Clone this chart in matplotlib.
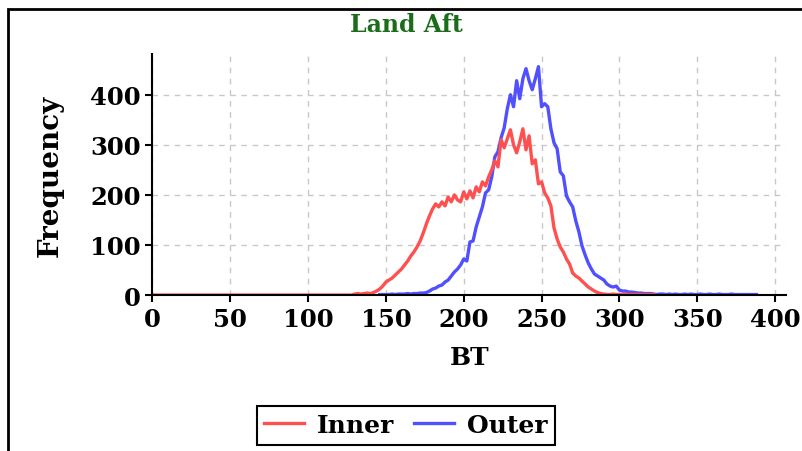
import numpy as np
import matplotlib
matplotlib.use("Agg")
import matplotlib.pyplot as plt
from matplotlib.patches import Rectangle

# histogram counts (bins of 2 BT units)
inner_start = 0
inner_counts = [0] * 65 + [
    2, 3, 2, 3, 4, 3, 5, 8, 12, 18,
    26, 30, 34, 40, 46, 52, 60, 68, 78, 86,
    96, 108, 124, 142, 158, 172, 182, 176, 186, 178,
    196, 186, 200, 190, 186, 206, 192, 208, 194, 216,
    206, 226, 218, 236, 250, 268, 256, 310, 294, 312,
    330, 300, 284, 306, 332, 290, 318, 262, 270, 222,
    226, 204, 194, 178, 134, 112, 96, 86, 72, 62,
    44, 38, 34, 28, 22, 16, 12, 8, 5, 3,
    2, 1, 1, 2, 1, 1, 1, 2, 1, 1,
    1, 1, 1, 1, 1, 1, 1,
]

outer_start = 146
outer_counts = [
    1, 1, 1, 1, 2, 1, 2, 2, 2, 3,
    2, 3, 3, 4, 4, 5, 8, 12, 14, 18,
    20, 26, 30, 38, 46, 52, 60, 72, 68, 106,
    108, 136, 156, 176, 204, 210, 236, 276, 286, 314,
    334, 372, 400, 376, 428, 392, 432, 452, 428, 410,
    432, 456, 376, 382, 376, 332, 304, 292, 246, 238,
    198, 186, 176, 148, 126, 98, 80, 64, 52, 42,
    38, 34, 30, 22, 18, 16, 18, 10, 8, 8,
    6, 6, 5, 4, 4, 3, 3, 3, 2, 1,
    2, 2, 1, 2, 1, 2, 1, 1, 2, 1,
    2, 1, 1, 2, 1, 1, 2, 1, 1, 2,
    1, 1, 1, 2, 1, 1, 1, 1, 1, 1,
    1, 1,
]

x_ticks = [0, 50, 100, 150, 200, 250, 300, 350, 400]
y_ticks = [0, 100, 200, 300, 400]

inner_x = inner_start + 2 * np.arange(len(inner_counts))
outer_x = outer_start + 2 * np.arange(len(outer_counts))

plt.rcParams['font.family'] = 'DejaVu Serif'
plt.rcParams['font.weight'] = 'bold'

fig = plt.figure(figsize=(8.02, 4.52), dpi=100)
ax = fig.add_axes([0.190, 0.345, 0.790, 0.533])

ax.plot(outer_x, outer_counts, color='#5050ff', lw=2.4, label='Outer')
ax.plot(inner_x, inner_counts, color='#ff5050', lw=2.4, label='Inner')

ax.set_xlim(0, 407)
ax.set_ylim(0, 481)
ax.set_xticks(x_ticks)
ax.set_yticks(y_ticks)
ax.tick_params(labelsize=17.5, length=5, width=1.5, color='black')
for lab in ax.get_xticklabels() + ax.get_yticklabels():
    lab.set_fontweight('bold')
ax.grid(True, color='#c8c8c8', linestyle=(0, (4, 4)), lw=1)
ax.set_axisbelow(True)
for s in ['top', 'right']:
    ax.spines[s].set_visible(False)
for s in ['left', 'bottom']:
    ax.spines[s].set_color('black')
    ax.spines[s].set_linewidth(1.5)

ax.set_xlabel('BT', fontsize=18, fontweight='bold', labelpad=10)
ax.set_ylabel('Frequency', fontsize=20, fontweight='bold', labelpad=19)

fig.text(0.507, 0.945, 'Land Aft', color='#1a6e1a', fontsize=17,
         fontweight='bold', ha='center', va='center')

h, l = ax.get_legend_handles_labels()
leg = fig.legend([h[1], h[0]], [l[1], l[0]], loc='center',
                 bbox_to_anchor=(0.506, 0.057), ncol=2, fontsize=18,
                 frameon=True, fancybox=False, framealpha=1,
                 handlelength=1.6, columnspacing=0.8, handletextpad=0.5,
                 borderpad=0.3)
leg.get_frame().set_edgecolor('black')
leg.get_frame().set_linewidth(1.5)
for t in leg.get_texts():
    t.set_fontweight('bold')

fig.add_artist(Rectangle((8.3 / 802, -0.1), 1.2, 1.1 - 10 / 452,
                         transform=fig.transFigure, fill=False,
                         edgecolor='black', lw=2))

fig.savefig('out.png', dpi=100)
